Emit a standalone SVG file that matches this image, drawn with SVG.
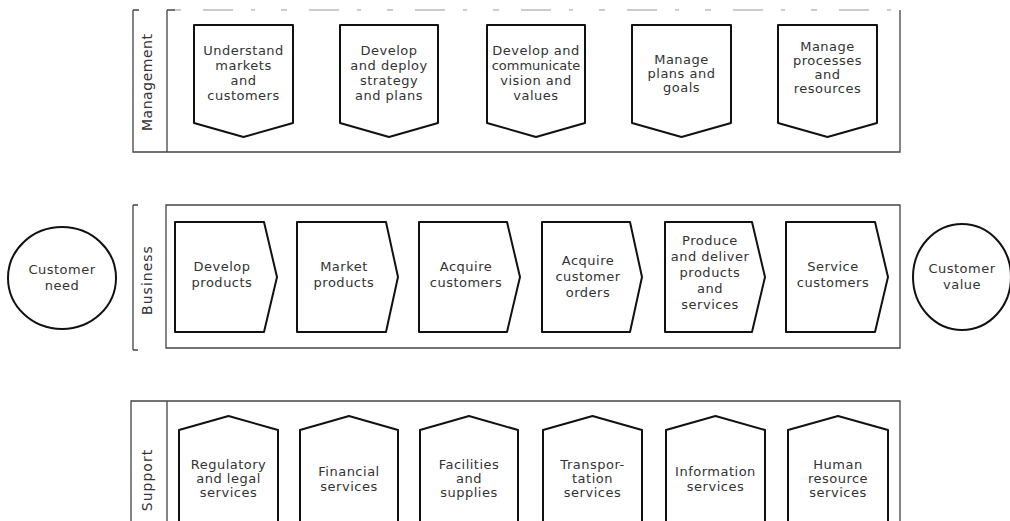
<svg xmlns="http://www.w3.org/2000/svg" width="1010" height="521" viewBox="0 0 1010 521">
<style>
.band{fill:none;stroke:#444;stroke-width:1.3}
.faint{fill:none;stroke:#999;stroke-width:1.2;stroke-dasharray:6 22 30 18 4 26}
.box{fill:#fff;stroke:#111;stroke-width:2;stroke-linejoin:round}
.circ{fill:#fff;stroke:#111;stroke-width:2}
text{font-family:"DejaVu Sans","Liberation Sans",sans-serif;font-size:13px;fill:#333;text-anchor:middle;letter-spacing:0.5px}
.lab{font-size:14px;letter-spacing:1px}
.tight{letter-spacing:0}
</style>
<rect width="1010" height="521" fill="#fff"/>

<!-- Management band -->
<g id="band-management">
<path class="band" d="M133,10 V152 H900 V10 M167,10 V152 M133,10 h6 M167,10 h8"/>
<path class="faint" d="M175,10 H900"/>
<text class="lab" transform="translate(152,82) rotate(-90)" textLength="98" lengthAdjust="spacing">Management</text>
</g>

<g id="m1"><path class="box" d="M194,25 H293 V123 L243.5,137 L194,123 Z"/>
<text x="243.5" y="55">Understand</text><text x="243.5" y="70">markets</text><text x="243.5" y="85">and</text><text x="243.5" y="100">customers</text></g>
<g id="m2"><path class="box" d="M340,25 H438 V123 L389,137 L340,123 Z"/>
<text x="389" y="55">Develop</text><text x="389" y="70">and deploy</text><text x="389" y="85">strategy</text><text x="389" y="100">and plans</text></g>
<g id="m3"><path class="box" d="M487,25 H585 V123 L536,137 L487,123 Z"/>
<text x="536" y="55">Develop and</text><text class="tight" x="536" y="70">communicate</text><text x="536" y="85">vision and</text><text x="536" y="100">values</text></g>
<g id="m4"><path class="box" d="M632,25 H731 V123 L681.5,137 L632,123 Z"/>
<text x="681.5" y="64">Manage</text><text x="681.5" y="78">plans and</text><text x="681.5" y="92">goals</text></g>
<g id="m5"><path class="box" d="M778,25 H877 V123 L827.5,137 L778,123 Z"/>
<text x="827.5" y="51">Manage</text><text x="827.5" y="65">processes</text><text x="827.5" y="79">and</text><text x="827.5" y="93">resources</text></g>

<!-- Business band -->
<g id="band-business">
<path class="band" d="M166,205 H900 V348 H166 Z M133,205 V350 M133,205 h5 M133,350 h5"/>
<text class="lab" transform="translate(152,280) rotate(-90)">Business</text>
</g>

<g id="customer-need"><ellipse class="circ" cx="62" cy="278" rx="54" ry="51"/>
<text x="62" y="274">Customer</text><text x="62" y="290">need</text></g>

<g id="b1"><path class="box" d="M175,222 H264 L277,277 L264,332 H175 Z"/>
<text x="222" y="271">Develop</text><text x="222" y="287">products</text></g>
<g id="b2"><path class="box" d="M297,222 H386 L398,277 L386,332 H297 Z"/>
<text x="344" y="271">Market</text><text x="344" y="287">products</text></g>
<g id="b3"><path class="box" d="M419,222 H507 L520,277 L507,332 H419 Z"/>
<text x="466" y="271">Acquire</text><text x="466" y="287">customers</text></g>
<g id="b4"><path class="box" d="M542,222 H630 L642,277 L630,332 H542 Z"/>
<text x="588" y="265">Acquire</text><text x="588" y="281">customer</text><text x="588" y="297">orders</text></g>
<g id="b5"><path class="box" d="M665,222 H752 L765,277 L752,332 H665 Z"/>
<text x="710" y="245">Produce</text><text x="710" y="261">and deliver</text><text x="710" y="277">products</text><text x="710" y="293">and</text><text x="710" y="309">services</text></g>
<g id="b6"><path class="box" d="M786,222 H875 L888,277 L875,332 H786 Z"/>
<text x="833" y="271">Service</text><text x="833" y="287">customers</text></g>

<g id="customer-value"><ellipse class="circ" cx="962" cy="277" rx="49" ry="53"/>
<text x="962" y="273">Customer</text><text x="962" y="289">value</text></g>

<!-- Support band -->
<g id="band-support">
<path class="band" d="M131,530 V401 H900 V530 M167,401 V530"/>
<text class="lab" transform="translate(152,480) rotate(-90)">Support</text>
</g>

<g id="s1"><path class="box" d="M179,530 V430 L228.5,416 L278,430 V530"/>
<text x="228.5" y="469">Regulatory</text><text x="228.5" y="483">and legal</text><text x="228.5" y="497">services</text></g>
<g id="s2"><path class="box" d="M300,530 V430 L349,416 L398,430 V530"/>
<text x="349" y="476">Financial</text><text x="349" y="491">services</text></g>
<g id="s3"><path class="box" d="M420,530 V430 L469,416 L518,430 V530"/>
<text x="469" y="469">Facilities</text><text x="469" y="483">and</text><text x="469" y="497">supplies</text></g>
<g id="s4"><path class="box" d="M543,530 V430 L592.5,416 L642,430 V530"/>
<text x="592.5" y="469">Transpor-</text><text x="592.5" y="483">tation</text><text x="592.5" y="497">services</text></g>
<g id="s5"><path class="box" d="M666,530 V430 L715.5,416 L765,430 V530"/>
<text x="715.5" y="476">Information</text><text x="715.5" y="491">services</text></g>
<g id="s6"><path class="box" d="M788,530 V430 L838,416 L888,430 V530"/>
<text x="838" y="469">Human</text><text x="838" y="483">resource</text><text x="838" y="497">services</text></g>

<g id="connectors"/>
</svg>
